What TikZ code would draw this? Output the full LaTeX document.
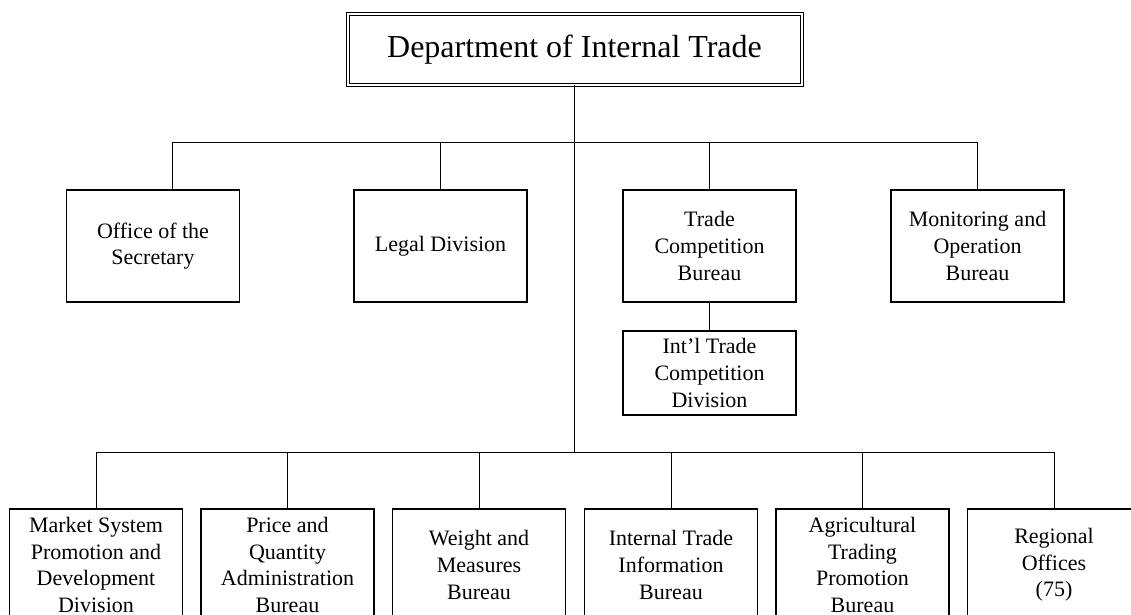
\documentclass[tikz,border=0pt]{standalone}
\usepackage{fontspec}
\setmainfont{Liberation Serif}
\begin{document}
\begin{tikzpicture}[x=0.5pt, y=-0.5pt,
    unit/.style={draw, line width=0.6pt, minimum width=86.5pt, minimum height=56pt,
      inner sep=0pt, align=center, font=\fontsize{11}{13.3}\selectfont},
    head/.style={draw, double, double distance=1pt, line width=0.5pt, minimum width=227pt,
      minimum height=35.5pt, inner sep=0pt, font=\fontsize{16}{19}\selectfont},
    link/.style={line width=0.5pt}]
    \useasboundingbox (0,0) rectangle (1131,615); \clip (0,0) rectangle (1131,615);
    \def\ox{153}; \def\lx{440.5}; \def\tx{709.5}; \def\mx{977.5};
    \def\ax{96}; \def\bx{287.5}; \def\cx{479}; \def\dx{671}; \def\ex{862.5}; \def\fx{1054};

    \node[head] (DIT) at (574.5,49.5) {Department of Internal Trade};

    \node[unit] (OS) at (\ox,246) {Office of the\\Secretary};
    \node[unit] (LD) at (\lx,246) {Legal Division};
    \node[unit] (TCB) at (\tx,246) {Trade\\Competition\\Bureau};
    \node[unit] (MOB) at (\mx,246) {Monitoring and\\Operation\\Bureau};
    \node[unit, minimum height=42pt] (ITC) at (\tx,373) {Int’l Trade\\Competition\\Division};

    \node[unit] (MSP) at (\ax,565) {Market System\\Promotion and\\Development\\Division};
    \node[unit] (PQA) at (\bx,565) {Price and\\Quantity\\Administration\\Bureau};
    \node[unit] (WMB) at (\cx,565) {Weight and\\Measures\\Bureau};
    \node[unit] (ITI) at (\dx,565) {Internal Trade\\Information\\Bureau};
    \node[unit] (ATP) at (\ex,565) {Agricultural\\Trading\\Promotion\\Bureau};
    \node[unit] (RO) at (\fx,565) {Regional\\Offices\\(75)};

    \coordinate (J1) at (574.5,143); \coordinate (J2) at (574.5,452);
    \coordinate (OSin) at (172,143);

    % upper branch
    \draw[link] (DIT) -- (J2);
    \draw[link] (OSin) -- (J1 -| MOB);
    \draw[link] (OSin) -- (OSin |- OS.north); \draw[link] (J1 -| LD) -- (LD);
    \draw[link] (J1 -| TCB) -- (TCB); \draw[link] (J1 -| MOB) -- (MOB);
    \draw[link] (TCB) -- (ITC);

    % lower branch
    \draw[link] (J2 -| MSP) -- (J2 -| RO);
    \draw[link] (J2 -| MSP) -- (MSP); \draw[link] (J2 -| PQA) -- (PQA);
    \draw[link] (J2 -| WMB) -- (WMB); \draw[link] (J2 -| ITI) -- (ITI);
    \draw[link] (J2 -| ATP) -- (ATP); \draw[link] (J2 -| RO) -- (RO);
  \end{tikzpicture}
\end{document}
